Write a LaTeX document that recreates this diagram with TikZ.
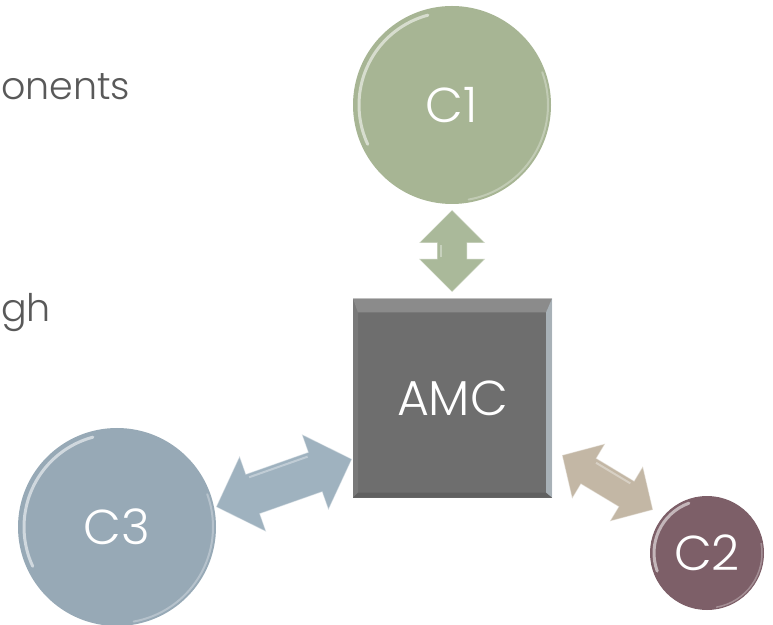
\documentclass[tikz,border=0pt]{standalone}
\usepackage{fontspec}
\setmainfont{Poppins}[UprightFont=* Light]

\definecolor{textgray}{HTML}{595959}
\definecolor{greenball}{HTML}{A7B594}
\definecolor{greenarrow}{HTML}{AAB99A}
\definecolor{blueball}{HTML}{97A9B6}
\definecolor{bluearrow}{HTML}{9FB2BF}
\definecolor{plumball}{HTML}{7D5F68}
\definecolor{tanarrow}{HTML}{C3B7A5}
\definecolor{amcgray}{HTML}{6E6E6E}
\definecolor{amcedge}{HTML}{B7C2CA}

% double headed block arrow: length/head length/half shaft/half head
\tikzset{
  pics/dblarrow/.style args={#1/#2/#3/#4}{code={
    \path[pic actions] (-#1/2,0) -- (-#1/2+#2,#4) -- (-#1/2+#2,#3)
        -- (#1/2-#2,#3) -- (#1/2-#2,#4) -- (#1/2,0) -- (#1/2-#2,-#4)
        -- (#1/2-#2,-#3) -- (-#1/2+#2,-#3) -- (-#1/2+#2,-#4) -- cycle;
    % shine on the shaft
    \draw[white, opacity=0.35, line width=2pt]
        (-#1/2+#2+2,#3-4) -- (#1/2-#2-2,#3-4);
  }}
}

\begin{document}
\begin{tikzpicture}[x=1pt, y=1pt]

    % let's define some key values
    \def\bigr{99}
    \def\smallr{57}
    \def\boxsize{199}
    \def\bevel{14}

    \useasboundingbox (0,0) rectangle (773,624);

    % Styles
    \tikzstyle{ball}=[circle, inner sep=0pt, outer sep=0pt]
    \tikzstyle{label}=[text=white, inner sep=0pt, font=\fontsize{49}{49}\selectfont]
    \tikzstyle{slide}=[text=textgray, inner sep=0pt, anchor=base west,
        font=\fontsize{38}{38}\selectfont]
    \tikzstyle{gloss}=[white, opacity=0.55, line width=3pt, line cap=round]
    \tikzstyle{twoway}=[draw=white, draw opacity=0.45, line width=1pt]

    % slide text at the left edge
    \node[slide] (comp) at (1,524) {onents};
    \node[slide] (thru) at (1,302) {gh};

    % top component
    \node[ball, fill=greenball, minimum size=2*\bigr] (cone) at (452,519) {};
    \draw[gloss] (cone.center) ++(105:\bigr-6) arc[start angle=105, end angle=205, radius=\bigr-6];
    \draw[gloss, opacity=0.3, line width=2pt] (cone.center) ++(280:\bigr-3) arc[start angle=280, end angle=380, radius=\bigr-3];
    \node[label] (conetext) at (cone.center) {C1};

    % left component
    \node[ball, fill=blueball, minimum size=2*\bigr] (cthree) at (117,97) {};
    \draw[gloss] (cthree.center) ++(105:\bigr-6) arc[start angle=105, end angle=205, radius=\bigr-6];
    \draw[gloss, opacity=0.3, line width=2pt] (cthree.center) ++(280:\bigr-3) arc[start angle=280, end angle=380, radius=\bigr-3];
    \node[label] (cthreetext) at (cthree.center) {C3};

    % right component
    \node[ball, fill=plumball, minimum size=2*\smallr] (ctwo) at (707,71) {};
    \draw[gloss] (ctwo.center) ++(110:\smallr-4) arc[start angle=110, end angle=200, radius=\smallr-4];
    \draw[gloss, opacity=0.3, line width=1.5pt] (ctwo.center) ++(280:\smallr-2) arc[start angle=280, end angle=370, radius=\smallr-2];
    \node[label] (ctwotext) at (ctwo.center) {C2};

    % AMC block
    \node[fill=amcgray, minimum size=\boxsize, inner sep=0pt, outer sep=0pt] (amc) at (452.5,226) {};
    % bevel faces
    \fill[white, opacity=0.2] (amc.north west) -- (amc.north east)
        -- ([shift={(-6,-\bevel)}]amc.north east) -- ([shift={(5,-\bevel)}]amc.north west) -- cycle;
    \fill[white, opacity=0.08] (amc.north west) -- ([shift={(5,-\bevel)}]amc.north west)
        -- ([shift={(5,5)}]amc.south west) -- (amc.south west) -- cycle;
    \fill[black, opacity=0.12] (amc.south west) -- ([shift={(5,5)}]amc.south west)
        -- ([shift={(-6,5)}]amc.south east) -- (amc.south east) -- cycle;
    \fill[amcedge, opacity=0.8] (amc.north east) -- ([shift={(-6,-\bevel)}]amc.north east)
        -- ([shift={(-6,5)}]amc.south east) -- (amc.south east) -- cycle;
    \draw[white, opacity=0.5] (amc.north west) -- (amc.north east);
    \node[label] (amctext) at (amc.center) {AMC};

    % links between AMC and the components
    \pic[fill=greenarrow, twoway, rotate=90] (oneamc) at (452,373) {dblarrow=82/33/15/33};
    \pic[fill=bluearrow, twoway, rotate=19.4] (threeamc) at (284,141) {dblarrow=144/39/21/40};
    \pic[fill=tanarrow, twoway, rotate=-31] (twoamc) at (607.5,141.5) {dblarrow=106/31/15/32};

\end{tikzpicture}
\end{document}
